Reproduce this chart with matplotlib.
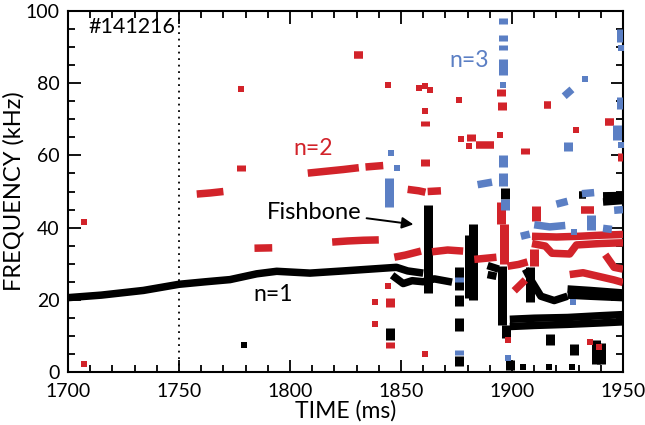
import matplotlib
matplotlib.use("Agg")
import matplotlib.pyplot as plt

# ---------------------------------------------------------------- data
# Mode frequency tracks (time in ms, frequency in kHz)
black_tracks = [
    [(1700, 20.6), (1715, 21.3), (1734, 22.6), (1750, 24.3), (1762, 25.0),
     (1773, 25.6), (1785, 27.2), (1794, 27.9), (1809, 27.4), (1824, 28.0),
     (1836, 28.5), (1848, 29.0), (1853, 28.0), (1860, 27.4)],
    [(1846, 26.8), (1851, 24.5), (1855, 25.3), (1860, 25.0), (1865, 25.8), (1873, 24.9)],
    [(1889, 29.5), (1894, 28.5)],
    [(1889, 27.0), (1893, 26.5)],
    [(1899, 12.6), (1910, 12.9), (1925, 13.2), (1940, 13.6), (1950, 13.9)],
    [(1899, 14.6), (1910, 14.9), (1925, 15.1), (1940, 15.6), (1950, 15.9)],
    [(1906, 28.5), (1909, 25.0), (1913, 21.0), (1919, 19.8), (1925, 21.0)],
    [(1925, 23.0), (1935, 22.6), (1950, 21.9)],
    [(1925, 21.3), (1935, 21.0), (1950, 20.6)],
    [(1941, 47.1), (1950, 47.5)],
    [(1941, 48.8), (1950, 48.9)],
    [(1930, 49.0), (1933.5, 49.0)],
]
black_spans = [
    (1862, 22.0, 46.3), (1876, 22.8, 29.0), (1876, 18.4, 21.4), (1876, 11.4, 15.0),
    (1876, 1.8, 4.5), (1880.5, 20.6, 38.0), (1882.5, 20.0, 41.0), (1895.5, 13.0, 29.5),
    (1897.5, 9.5, 13.0), (1897, 47.8, 51.0), (1845, 8.8, 12.2), (1899, 0.6, 3.4),
    (1917, 7.4, 10.6), (1928, 4.7, 7.8), (1938, 2.2, 8.8), (1940, 2.2, 8.0),
    (1908, 19.5, 29.0),
]
black_points = [(1779.3, 7.5), (1905, 1.5), (1916.7, 1.3), (1927.2, 1.3)]

red_tracks = [
    [(1758, 49.3), (1764, 49.6), (1770, 50.0)],
    [(1784, 34.3), (1792, 34.4)],
    [(1808, 55.1), (1816, 55.6), (1824, 56.1), (1831, 56.6)],
    [(1834, 56.8), (1842, 57.2)],
    [(1829, 87.8), (1833, 87.8)],
    [(1819, 36.0), (1826, 36.3), (1833, 36.5), (1840, 36.6)],
    [(1853, 50.6), (1858, 50.2), (1861, 49.8)],
    [(1862, 50.0), (1868, 50.2)],
    [(1847, 31.8), (1852, 32.4), (1859, 33.5)],
    [(1864, 33.3), (1871, 33.8), (1878, 33.5)],
    [(1883, 31.2), (1888, 31.5), (1893, 31.8)],
    [(1884, 63.0), (1892, 63.0)],
    [(1898, 29.3), (1903, 29.8), (1907, 30.5)],
    [(1901, 22.5), (1906, 25.5)],
    [(1909, 37.6), (1920, 37.4), (1930, 37.6), (1940, 37.9), (1950, 38.1)],
    [(1909, 35.6), (1915, 34.9), (1918, 32.9), (1926, 32.7), (1929, 35.2),
     (1940, 35.6), (1950, 35.8)],
    [(1926, 27.0), (1932, 27.5), (1939, 26.5), (1946, 25.5), (1950, 24.8)],
    [(1942, 32.5), (1946, 29.0), (1950, 28.5)],
    [(1931, 44.8), (1937, 44.8)],
    [(1942, 69.4), (1946, 69.4)],
    [(1914.5, 74.0), (1917.5, 74.0)],
]
red_spans = [
    (1778, 55.6, 57.4), (1861, 57.0, 59.0), (1861, 68.2, 69.6), (1881.5, 64.0, 66.0),
    (1895.5, 72.6, 74.8), (1895, 76.5, 78.5), (1895, 41.0, 47.0), (1896.5, 30.0, 41.0),
    (1906, 60.3, 62.0), (1911, 41.8, 46.0), (1910, 29.5, 34.0), (1845, 18.0, 20.5),
    (1845, 6.6, 8.4), (1949.5, 58.4, 60.7),
]
red_points = [
    (1707, 41.5), (1707, 2.2), (1778, 78.3), (1844, 79.4), (1858, 78.8), (1861, 79.3),
    (1863, 78.0), (1861, 72.3), (1876, 75.3), (1877, 64.6), (1880.6, 62.5),
    (1894.6, 65.7), (1929, 67.1), (1838.5, 19.3), (1838.5, 13.2), (1844, 23.8),
    (1861, 4.9), (1898, 9.0), (1935, 8.3), (1939, 7.0),
]

blue_tracks = [
    [(1884.5, 51.9), (1891, 52.6)],
    [(1923.5, 76.4), (1927, 78.3)],
    [(1904, 37.6), (1908, 38.2)],
    [(1910, 40.8), (1917, 40.2), (1924, 40.6)],
    [(1920, 46.5), (1925, 47.3)],
    [(1931.5, 49.4), (1937, 49.7)],
    [(1941, 39.8), (1945, 39.5)],
    [(1946, 44.8), (1950, 45.0)],
]
blue_spans = [
    (1844.6, 45.8, 53.8), (1896, 96.5, 98.2), (1896, 91.7, 93.5), (1896, 89.2, 90.7),
    (1896, 82.3, 86.8), (1896, 51.5, 55.0), (1896, 56.7, 60.0), (1897, 44.9, 48.0),
    (1876, 24.9, 26.4), (1876, 4.6, 6.0), (1949, 91.5, 95.0), (1949, 72.8, 76.2),
    (1947.5, 64.2, 68.3), (1935.5, 39.3, 43.5), (1925, 61.2, 63.6),
]
blue_points = [
    (1845.5, 60.7), (1848, 56.5), (1896, 79.4), (1933, 81.3), (1949, 89.8),
    (1949, 62.8), (1898, 3.8), (1927.5, 19.3), (1928, 38.8),
]

x_ticks = [1700, 1750, 1800, 1850, 1900, 1950]
y_ticks = [0, 20, 40, 60, 80, 100]
shot_label = "#141216"
sawtooth_time = 1750

# ---------------------------------------------------------------- style
RED = "#d2232a"
BLUE = "#5b7fc4"
BLACK = "#000000"
PX = 0.72  # points per pixel at 100 dpi
TRACK_LW = 7.5 * PX
SPAN_LW = 9 * PX
FONT = "Lato"

plt.rcParams["font.family"] = [FONT, "DejaVu Sans"]

fig = plt.figure(figsize=(6.45, 4.25), dpi=100)
ax = fig.add_axes([0.1054, 0.1247, 0.8605, 0.8493])


def draw_mode(tracks, spans, points, color):
    for tr in tracks:
        ts = [p[0] for p in tr]
        fs = [p[1] for p in tr]
        ax.plot(ts, fs, color=color, lw=TRACK_LW, solid_capstyle="butt",
                solid_joinstyle="round", zorder=3)
    for t, lo, hi in spans:
        ax.plot([t, t], [lo, hi], color=color, lw=SPAN_LW, solid_capstyle="butt", zorder=3)
    if points:
        ax.plot([p[0] for p in points], [p[1] for p in points], ls="none",
                marker="s", ms=5.0, mew=0.0, color=color, zorder=3)


draw_mode(black_tracks, black_spans, black_points, BLACK)
draw_mode(red_tracks, red_spans, red_points, RED)
draw_mode(blue_tracks, blue_spans, blue_points, BLUE)

ax.axvline(sawtooth_time, color="black", lw=1.3, ls=(0, (1, 2.6)), zorder=2)

ax.set_xlim(1700, 1950)
ax.set_ylim(0, 100)
ax.set_xticks(x_ticks)
ax.set_yticks(y_ticks)
ax.set_xticks(range(1700, 1951, 10), minor=True)
ax.set_yticks(range(0, 101, 5), minor=True)
ax.tick_params(which="both", direction="in", top=True, right=True,
               labelsize=14, width=1.3)
ax.tick_params(axis="x", which="major", pad=8)
ax.tick_params(axis="y", which="major", pad=6)
ax.tick_params(which="major", length=9)
ax.tick_params(which="minor", length=5)
for s in ax.spines.values():
    s.set_linewidth(1.5)

ax.set_xlabel("TIME (ms)", fontsize=16.5, labelpad=0)
ax.set_ylabel("FREQUENCY (kHz)", fontsize=17, labelpad=1)

ax.text(1709, 95.5, shot_label, fontsize=15.5, ha="left", va="center")
ax.text(1810.5, 61.8, "n=2", color=RED, fontsize=16.5, ha="center", va="center")
ax.text(1880.5, 86.2, "n=3", color=BLUE, fontsize=16.5, ha="center", va="center")
ax.text(1792.6, 21.5, "n=1", color=BLACK, fontsize=16.5, ha="center", va="center")
ax.text(1810.8, 44.3, "Fishbone", color=BLACK, fontsize=17, ha="center", va="center")
ax.annotate("", xy=(1855.6, 40.9), xytext=(1834.5, 42.6),
            arrowprops=dict(arrowstyle="-|>", color="black", lw=1.4,
                            mutation_scale=17, shrinkA=0, shrinkB=0))

fig.savefig("out.png", dpi=100)
